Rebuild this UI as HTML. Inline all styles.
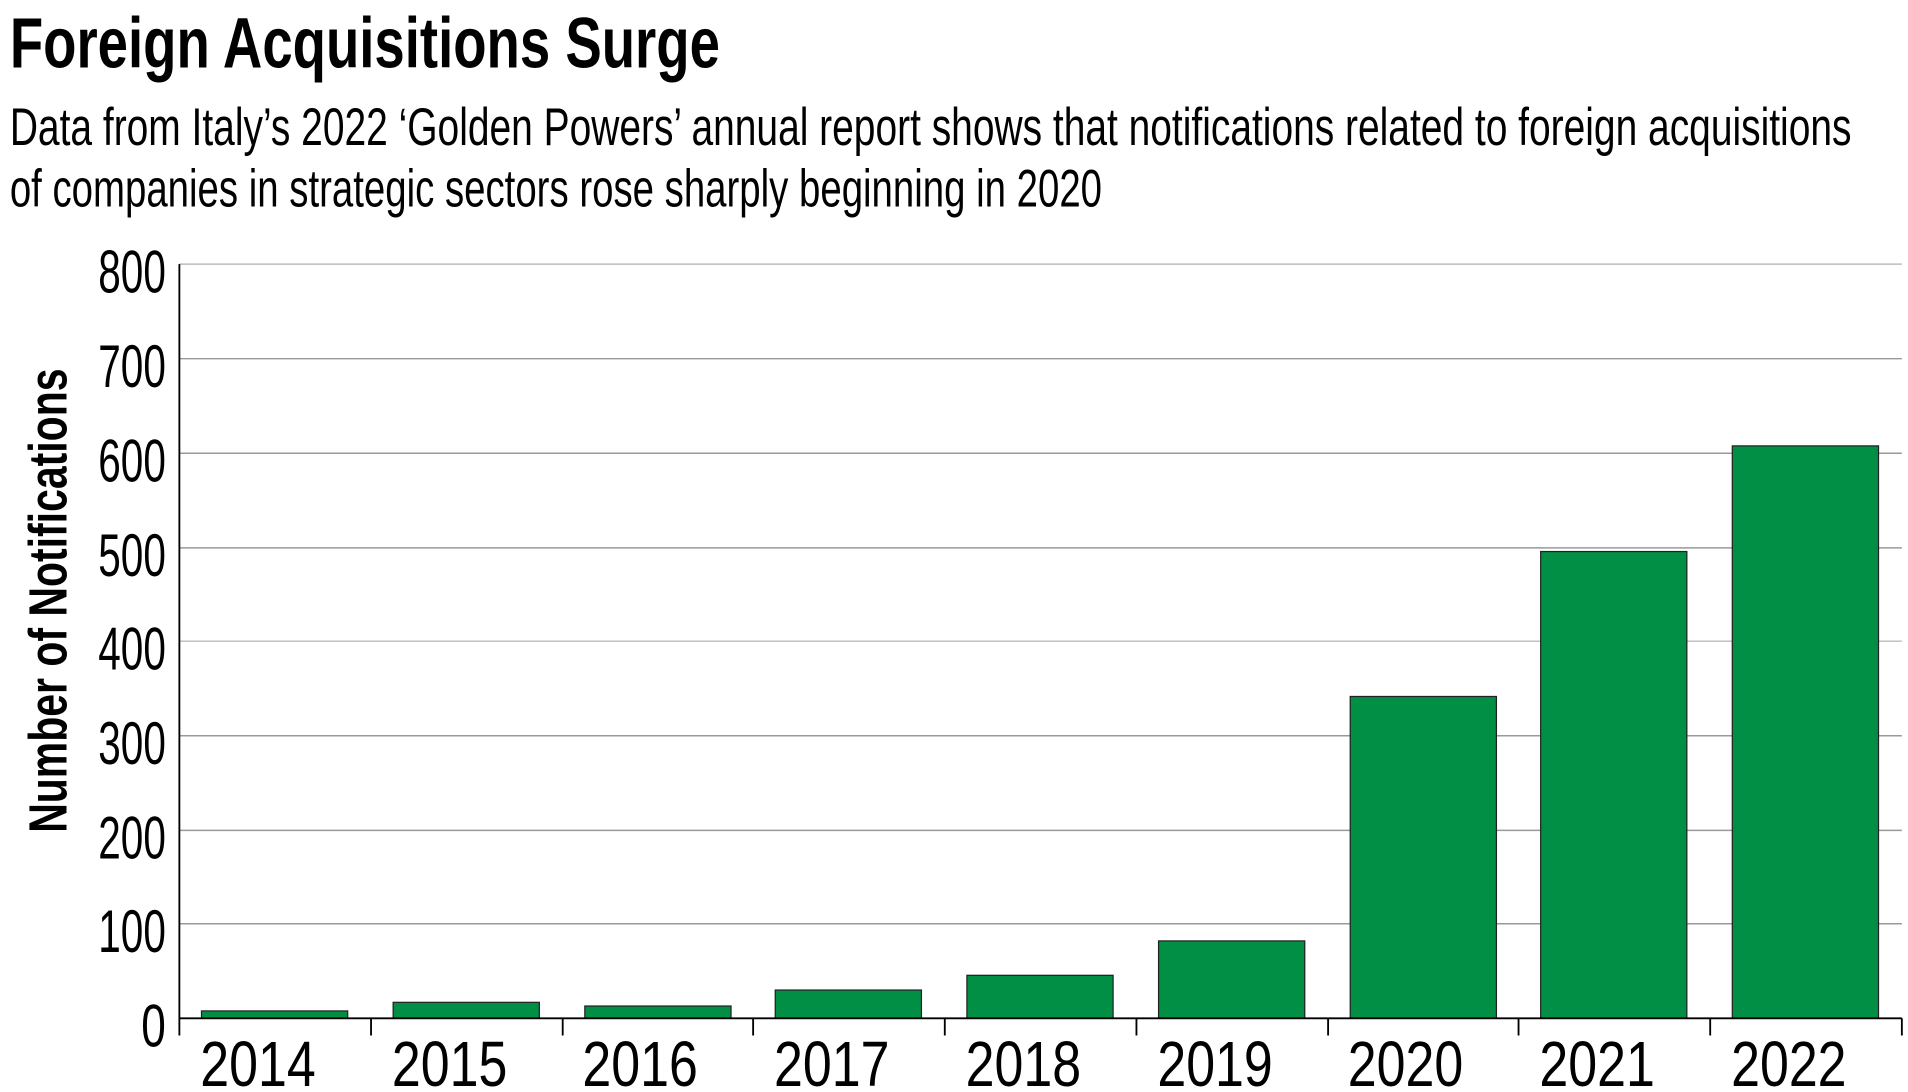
<!DOCTYPE html>
<html><head><meta charset="utf-8"><style>html,body{margin:0;padding:0;background:#fff;}svg{display:block}</style></head>
<body>
<svg width="1908" height="1092" viewBox="0 0 1553 889" preserveAspectRatio="none" xmlns="http://www.w3.org/2000/svg" font-family="'Liberation Sans', sans-serif">
<text x="8" y="55" font-size="58" font-weight="bold" textLength="578" lengthAdjust="spacingAndGlyphs">Foreign Acquisitions Surge</text>
<text x="8" y="118" font-size="43" textLength="1499" lengthAdjust="spacingAndGlyphs">Data from Italy’s 2022 ‘Golden Powers’ annual report shows that notifications related to foreign acquisitions</text>
<text x="8" y="168" font-size="43" textLength="889" lengthAdjust="spacingAndGlyphs">of companies in strategic sectors rose sharply beginning in 2020</text>
<g stroke="#999" stroke-width="1.2">
<line x1="146" x2="1548" y1="215" y2="215" stroke="#bbb"/>
<line x1="146" x2="1548" y1="292" y2="292"/>
<line x1="146" x2="1548" y1="369" y2="369"/>
<line x1="146" x2="1548" y1="446" y2="446"/>
<line x1="146" x2="1548" y1="522" y2="522" stroke="#bbb"/>
<line x1="146" x2="1548" y1="599" y2="599"/>
<line x1="146" x2="1548" y1="676" y2="676"/>
<line x1="146" x2="1548" y1="752" y2="752"/>
</g>
<g fill="#008f45" stroke="#222" stroke-width="1">
<rect x="164" y="823" width="119" height="6"/>
<rect x="320" y="816" width="119" height="13"/>
<rect x="476" y="819" width="119" height="10"/>
<rect x="631" y="806" width="119" height="23"/>
<rect x="787" y="794" width="119" height="35"/>
<rect x="943" y="766" width="119" height="63"/>
<rect x="1099" y="567" width="119" height="262"/>
<rect x="1254" y="449" width="119" height="380"/>
<rect x="1410" y="363" width="119" height="466"/>
</g>
<g stroke="#000" stroke-width="1.5">
<line x1="146" y1="215" x2="146" y2="843"/>
<line x1="146" y1="829" x2="1548" y2="829"/>
<line x1="302" y1="829" x2="302" y2="843"/>
<line x1="458" y1="829" x2="458" y2="843"/>
<line x1="613" y1="829" x2="613" y2="843"/>
<line x1="769" y1="829" x2="769" y2="843"/>
<line x1="925" y1="829" x2="925" y2="843"/>
<line x1="1081" y1="829" x2="1081" y2="843"/>
<line x1="1236" y1="829" x2="1236" y2="843"/>
<line x1="1392" y1="829" x2="1392" y2="843"/>
<line x1="1548" y1="829" x2="1548" y2="843"/>
</g>
<g font-size="49" text-anchor="end">
<text x="135" y="238" textLength="55" lengthAdjust="spacingAndGlyphs">800</text>
<text x="135" y="315" textLength="55" lengthAdjust="spacingAndGlyphs">700</text>
<text x="135" y="392" textLength="55" lengthAdjust="spacingAndGlyphs">600</text>
<text x="135" y="469" textLength="55" lengthAdjust="spacingAndGlyphs">500</text>
<text x="135" y="545" textLength="55" lengthAdjust="spacingAndGlyphs">400</text>
<text x="135" y="622" textLength="55" lengthAdjust="spacingAndGlyphs">300</text>
<text x="135" y="699" textLength="55" lengthAdjust="spacingAndGlyphs">200</text>
<text x="135" y="775" textLength="55" lengthAdjust="spacingAndGlyphs">100</text>
<text x="135" y="852" textLength="20" lengthAdjust="spacingAndGlyphs">0</text>
</g>
<g font-size="52" text-anchor="middle">
<text x="210" y="884" textLength="94" lengthAdjust="spacingAndGlyphs">2014</text>
<text x="366" y="884" textLength="94" lengthAdjust="spacingAndGlyphs">2015</text>
<text x="521" y="884" textLength="94" lengthAdjust="spacingAndGlyphs">2016</text>
<text x="677" y="884" textLength="94" lengthAdjust="spacingAndGlyphs">2017</text>
<text x="833" y="884" textLength="94" lengthAdjust="spacingAndGlyphs">2018</text>
<text x="989" y="884" textLength="94" lengthAdjust="spacingAndGlyphs">2019</text>
<text x="1144" y="884" textLength="94" lengthAdjust="spacingAndGlyphs">2020</text>
<text x="1300" y="884" textLength="94" lengthAdjust="spacingAndGlyphs">2021</text>
<text x="1456" y="884" textLength="94" lengthAdjust="spacingAndGlyphs">2022</text>
</g>
<text transform="translate(54,489) rotate(-90)" font-size="44" font-weight="bold" text-anchor="middle" textLength="378" lengthAdjust="spacingAndGlyphs">Number of Notifications</text>
</svg>
</body></html>
